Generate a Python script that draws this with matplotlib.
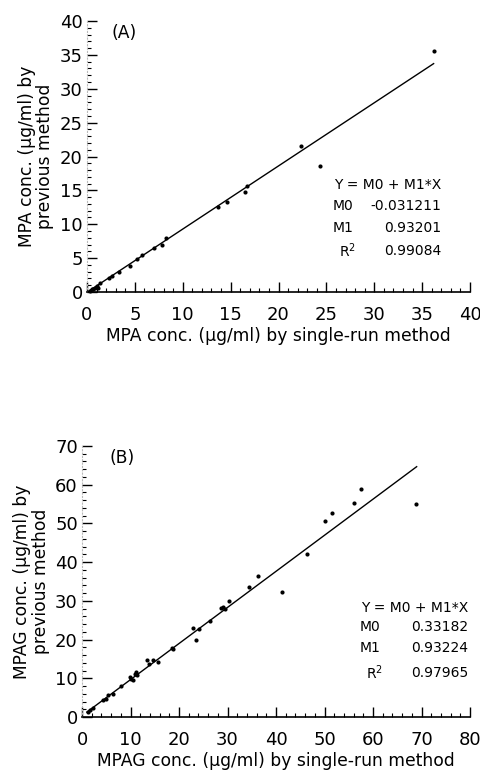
import matplotlib
matplotlib.use("Agg")
import matplotlib.pyplot as plt
from matplotlib.ticker import MultipleLocator
import numpy as np

plt.rcParams['font.family'] = ['DejaVu Sans']

# Panel A data (MPA)
a_x = [36.2, 22.4, 24.3, 16.5, 16.7, 14.6, 13.7, 8.2, 7.8, 7.0, 5.7, 5.2, 4.5,
       3.3, 2.6, 2.3, 1.4, 1.0, 0.8, 0.5, 0.3, 1.2, 0.6]
a_y = [35.6, 21.6, 18.6, 14.8, 15.6, 13.3, 12.6, 7.9, 7.0, 6.5, 5.4, 4.8, 3.9,
       3.0, 2.4, 2.1, 1.3, 0.9, 0.6, 0.4, 0.2, 0.6, 0.5]
a_m0, a_m1 = -0.031211, 0.93201
a_r2 = 0.99084
a_fit_range = [0.0, 36.2]

# Panel B data (MPAG)
b_x = [68.8, 57.6, 56.1, 51.6, 50.1, 46.4, 41.2, 36.3, 34.4, 30.3, 28.7, 29.4,
       29.0, 26.3, 22.9, 23.6, 24.1, 18.8, 18.5, 15.7, 14.6, 13.9, 13.3, 11.2,
       10.9, 11.4, 10.2, 9.8, 10.5, 8.1, 6.4, 5.4, 5.0, 4.3, 2.3, 1.6, 1.2]
b_y = [55.1, 58.9, 55.3, 52.6, 50.5, 42.0, 32.4, 36.3, 33.6, 29.9, 28.2, 27.8,
       28.4, 24.8, 23.1, 20.0, 22.8, 17.5, 17.7, 14.2, 14.7, 13.6, 14.8, 11.6,
       11.2, 10.8, 9.9, 10.3, 9.5, 7.9, 6.0, 5.6, 4.7, 4.3, 2.2, 1.7, 1.3]
b_m0, b_m1 = 0.33182, 0.93224
b_r2 = 0.97965
b_fit_range = [1.0, 69.0]

fig = plt.figure(figsize=(4.8, 7.71), dpi=100)
W, H = 480, 771

def make_ax(left, right, top, bottom):
    return fig.add_axes([left / W, 1 - bottom / H, (right - left) / W, (bottom - top) / H])

axA = make_ax(87, 470, 21, 292)
axB = make_ax(82, 470, 446, 717)

def style(ax, xmax, ymax, xmaj, xmin, ymaj, ymin):
    ax.set_xlim(0, xmax)
    ax.set_ylim(0, ymax)
    ax.xaxis.set_major_locator(MultipleLocator(xmaj))
    ax.xaxis.set_minor_locator(MultipleLocator(xmin))
    ax.yaxis.set_major_locator(MultipleLocator(ymaj))
    ax.yaxis.set_minor_locator(MultipleLocator(ymin))
    for s in ['top', 'right']:
        ax.spines[s].set_visible(False)
    ax.spines['left'].set_color('#bbbbbb')
    ax.spines['left'].set_linestyle((0, (1, 2)))
    ax.spines['left'].set_linewidth(0.8)
    ax.spines['bottom'].set_linewidth(1.2)
    ax.tick_params(which='major', direction='in', length=7, width=1.0, labelsize=13)
    ax.tick_params(which='minor', direction='in', length=3, width=0.8)
    ax.tick_params(axis='x', which='major', pad=10)
    ax.tick_params(axis='y', which='major', pad=3)

def draw(ax, xs, ys, m0, m1, r2, fr, label, xlab, ylab, tx, ty, lx, vx, rows):
    ax.scatter(xs, ys, s=9, color='black', zorder=3, clip_on=False, linewidths=0)
    fx = np.array(fr)
    ax.plot(fx, m0 + m1 * fx, color='black', lw=1.0)
    ax.text(tx, ty, label, transform=ax.transAxes, fontsize=12.3, va='center', ha='left')
    ax.set_xlabel(xlab, fontsize=12.3, labelpad=2)
    ax.set_ylabel(ylab, fontsize=12.3, labelpad=4, linespacing=1.05)
    fs = 10
    ax.text(vx, rows[0], 'Y = M0 + M1*X', transform=ax.transAxes, fontsize=fs, ha='right', va='center')
    ax.text(lx, rows[1], 'M0', transform=ax.transAxes, fontsize=fs, ha='left', va='center')
    ax.text(vx, rows[1], f'{m0:g}' if m0 < 0 else f'{m0:.5f}', transform=ax.transAxes, fontsize=fs, ha='right', va='center')
    ax.text(lx, rows[2], 'M1', transform=ax.transAxes, fontsize=fs, ha='left', va='center')
    ax.text(vx, rows[2], f'{m1:.5f}', transform=ax.transAxes, fontsize=fs, ha='right', va='center')
    ax.text(lx + 0.015, rows[3], 'R$^2$', transform=ax.transAxes, fontsize=fs, ha='left', va='center')
    ax.text(vx, rows[3], f'{r2:.5f}', transform=ax.transAxes, fontsize=fs, ha='right', va='center')

style(axA, 40, 40, 5, 1, 5, 1)
draw(axA, a_x, a_y, a_m0, a_m1, a_r2, a_fit_range, '(A)',
     'MPA conc. (µg/ml) by single-run method',
     'MPA conc. (µg/ml) by\nprevious method',
     0.065, 0.955, 0.642, 0.924, [0.395, 0.317, 0.236, 0.151])

style(axB, 80, 70, 10, 2, 10, 2)
draw(axB, b_x, b_y, b_m0, b_m1, b_r2, b_fit_range, '(B)',
     'MPAG conc. (µg/ml) by single-run method',
     'MPAG conc. (µg/ml) by\nprevious method',
     0.072, 0.956, 0.716, 0.995, [0.402, 0.332, 0.255, 0.162])

fig.savefig('out.png', dpi=100)
